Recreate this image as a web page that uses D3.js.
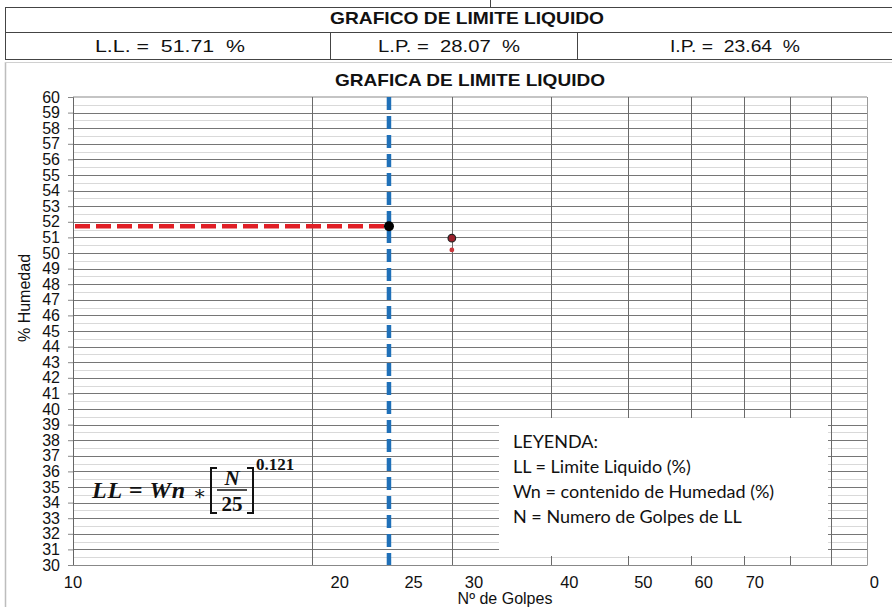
<!DOCTYPE html>
<html><head><meta charset="utf-8">
<script src="https://cdn.jsdelivr.net/npm/d3@7"></script>
<style>
html,body{margin:0;padding:0;background:#fff;}
svg{display:block;}
</style></head>
<body>
<svg id="c" width="892" height="607"></svg>
<script>
// ---- data ----
const headerTitle = "GRAFICO DE LIMITE LIQUIDO";
const headerLabels = ["L.L. =  51.71  %", "L.P. =  28.07  %", "I.P. =  23.64  %"];
const chartTitle = "GRAFICA DE LIMITE LIQUIDO";
const yTicks = [30,31,32,33,34,35,36,37,38,39,40,41,42,43,44,45,46,47,48,49,50,51,52,53,54,55,56,57,58,59,60];
const yMinor = [30.5,31.5,32.5,33.5,34.5,35.5,36.5,37.5,38.5,39.5,40.5,41.5,42.5,43.5,44.5,45.5,46.5,47.5,48.5,49.5,50.5,51.5,52.5,53.5,54.5,55.5,56.5,57.5,58.5,59.5];
const xGrid = [20,30,40,50,60,70,80,90,100];
const xTickLabels = [10,20,25,30,40,50,60,70,100];
const llGolpes = 25;
const llValue = 51.71;
const sampleGolpes = [30, 30];
const sampleHumedad = [50.95, 50.2];
const legendLines = ["LEYENDA:", "LL = Limite Liquido (%)", "Wn = contenido de Humedad (%)", "N = Numero de Golpes de LL"];

// ---- layout ----
const svg = d3.select("#c");
const W = 892, H = 607;
const L = 73, R = 867, T = 97, B = 565;
const x = d3.scaleLog().domain([10,100]).range([L,R]);
const xl = d3.scaleLog().domain([10,100]).range([110, 873]); // label placement as in the reference
const y = d3.scaleLinear().domain([30,60]).range([B,T]);
const sans = "'Liberation Sans', Arial, sans-serif";

// header table
const hdr = svg.append("g").attr("stroke","#444").attr("stroke-width",1).attr("shape-rendering","crispEdges");
hdr.append("line").attr("x1",490.5).attr("x2",490.5).attr("y1",0).attr("y2",7);
hdr.append("line").attr("x1",5).attr("x2",W).attr("y1",7.5).attr("y2",7.5);
hdr.append("line").attr("x1",5).attr("x2",W).attr("y1",32.5).attr("y2",32.5);
hdr.append("line").attr("x1",5).attr("x2",W).attr("y1",59.5).attr("y2",59.5);
hdr.append("line").attr("x1",5.5).attr("x2",5.5).attr("y1",7).attr("y2",60);
hdr.append("line").attr("x1",330.5).attr("x2",330.5).attr("y1",32).attr("y2",60);
hdr.append("line").attr("x1",577.5).attr("x2",577.5).attr("y1",32).attr("y2",60);
svg.append("text").attr("x",467).attr("y",24).attr("text-anchor","middle")
  .attr("font-family",sans).attr("font-weight","bold").attr("font-size",17).attr("fill","#111")
  .attr("textLength",274).attr("lengthAdjust","spacingAndGlyphs")
  .text(headerTitle);
const cellCenters = [170, 449, 735];
const cellWidths = [150, 142, 130];
headerLabels.forEach((t,i)=>{
  svg.append("text").attr("x",cellCenters[i]).attr("y",52).attr("text-anchor","middle")
    .attr("font-family",sans).attr("font-size",17).attr("fill","#111")
    .attr("textLength",cellWidths[i]).attr("lengthAdjust","spacingAndGlyphs")
    .attr("xml:space","preserve").style("white-space","pre").text(t);
});

// chart area border
svg.append("line").attr("x1",5.5).attr("x2",5.5).attr("y1",62).attr("y2",H).attr("stroke","#bdbdbd").attr("stroke-width",1.5);
svg.append("line").attr("x1",5).attr("x2",W).attr("y1",62.5).attr("y2",62.5).attr("stroke","#d0d0d0").attr("stroke-width",1);

// chart title
svg.append("text").attr("x",470).attr("y",86).attr("text-anchor","middle")
  .attr("font-family",sans).attr("font-weight","bold").attr("font-size",17).attr("fill","#111")
  .attr("textLength",270).attr("lengthAdjust","spacingAndGlyphs")
  .text(chartTitle);

// grid
const g = svg.append("g").attr("shape-rendering","crispEdges");
g.selectAll("line.minor").data(yMinor).join("line").attr("class","minor")
  .attr("x1",L).attr("x2",R).attr("y1",d=>Math.round(y(d))+0.5).attr("y2",d=>Math.round(y(d))+0.5)
  .attr("stroke","#d9d9d9").attr("stroke-width",1);
g.selectAll("line.major").data(yTicks.filter(d=>d>30 && d<60)).join("line").attr("class","major")
  .attr("x1",L).attr("x2",R).attr("y1",d=>Math.round(y(d))+0.5).attr("y2",d=>Math.round(y(d))+0.5)
  .attr("stroke","#767676").attr("stroke-width",1);
g.append("line").attr("x1",L).attr("x2",R).attr("y1",y(60)).attr("y2",y(60)).attr("stroke","#c4c4c4").attr("stroke-width",2);
g.selectAll("line.vg").data(xGrid).join("line").attr("class","vg")
  .attr("x1",d=>Math.round(x(d))+0.5).attr("x2",d=>Math.round(x(d))+0.5).attr("y1",T).attr("y2",B)
  .attr("stroke",d=>d===100?"#9a9a9a":"#6a6a6a").attr("stroke-width",1);

// axes
const ya = svg.append("g").attr("transform",`translate(${L},0)`).call(d3.axisLeft(y).tickValues(yTicks).tickSize(5).tickFormat(d3.format("d")));
ya.select(".domain").attr("stroke","#666");
ya.selectAll(".tick line").attr("stroke","#888");
ya.selectAll(".tick text").attr("font-family",sans).attr("font-size",16).attr("fill","#111").attr("x",-13);
const xa = svg.append("g").attr("transform",`translate(0,${B})`).call(d3.axisBottom(x).tickValues([]).tickSizeOuter(0));
xa.select(".domain").attr("stroke","#888");

// x tick labels (placed as in the reference; the last one is mostly hidden)
const clip = svg.append("defs").append("clipPath").attr("id","xlclip");
clip.append("rect").attr("x",0).attr("y",560).attr("width",852).attr("height",47);
clip.append("rect").attr("x",870).attr("y",560).attr("width",30).attr("height",47);
svg.append("g").attr("clip-path","url(#xlclip)").selectAll("text").data(xTickLabels).join("text")
  .attr("x",d=>d===10 ? x(d) : (d===100 ? xl(d)+6 : xl(d))).attr("y",588)
  .attr("text-anchor",d=>d===100?"end":"middle")
  .attr("font-family",sans).attr("font-size",16.5).attr("fill","#111").text(d=>d);

// axis titles
svg.append("text").attr("transform","translate(30,298) rotate(-90)").attr("text-anchor","middle")
  .attr("font-family",sans).attr("font-size",16).attr("fill","#111").text("% Humedad");
svg.append("text").attr("x",505).attr("y",604).attr("text-anchor","middle")
  .attr("font-family",sans).attr("font-size",16).attr("fill","#111").text("Nº de Golpes");

// red dashed horizontal at LL
svg.append("line").attr("x1",x(10)+2).attr("x2",x(llGolpes)).attr("y1",y(llValue)).attr("y2",y(llValue))
  .attr("stroke","#e01f26").attr("stroke-width",4.5).attr("stroke-dasharray","15,6");
// blue dashed vertical at 25 golpes
svg.append("line").attr("x1",x(llGolpes)).attr("x2",x(llGolpes)).attr("y1",y(60)).attr("y2",y(30))
  .attr("stroke","#1f70b8").attr("stroke-width",4.5).attr("stroke-dasharray","13,6");

// sample points
svg.append("circle").attr("cx",x(sampleGolpes[0])).attr("cy",y(sampleHumedad[0])).attr("r",3.8)
  .attr("fill","#9c1f2a").attr("stroke","#222").attr("stroke-width",1.2);
svg.append("circle").attr("cx",x(sampleGolpes[1])).attr("cy",y(sampleHumedad[1])).attr("r",2.4)
  .attr("fill","#c8363b");
// LL point
svg.append("circle").attr("cx",x(llGolpes)).attr("cy",y(llValue)).attr("r",5).attr("fill","#000");

// legend box
svg.append("rect").attr("x",499).attr("y",418).attr("width",329).attr("height",138).attr("fill","#fff");
legendLines.forEach((t,i)=>{
  svg.append("text").attr("x",513).attr("y",448+i*25).attr("font-family","Lato, 'Open Sans', sans-serif")
    .attr("font-size",18).attr("fill","#111").text(t);
});

// formula
const serif = "'Liberation Serif', 'DejaVu Serif', serif";
const f = svg.append("g").attr("font-family",serif).attr("font-weight","bold").attr("font-style","italic").attr("fill","#111");
f.append("text").attr("x",92).attr("y",498).attr("font-size",24).attr("xml:space","preserve").style("white-space","pre")
  .attr("textLength",93).attr("lengthAdjust","spacing").text("LL = Wn");
f.append("text").attr("x",193).attr("y",500).attr("font-size",20).attr("font-style","normal").attr("font-weight","normal").text("∗");
f.append("path").attr("d","M217,468 H211 V513 H217").attr("fill","none").attr("stroke","#111").attr("stroke-width",2);
f.append("path").attr("d","M247,468 H253 V513 H247").attr("fill","none").attr("stroke","#111").attr("stroke-width",2);
f.append("text").attr("x",232).attr("y",485).attr("text-anchor","middle").attr("font-size",21).text("N");
f.append("line").attr("x1",217).attr("x2",247).attr("y1",490).attr("y2",490).attr("stroke","#111").attr("stroke-width",1.5);
f.append("text").attr("x",232).attr("y",511).attr("text-anchor","middle").attr("font-size",21).attr("font-style","normal").text("25");
f.append("text").attr("x",256).attr("y",470).attr("font-size",17).attr("font-style","normal").text("0.121");
</script>
</body></html>
